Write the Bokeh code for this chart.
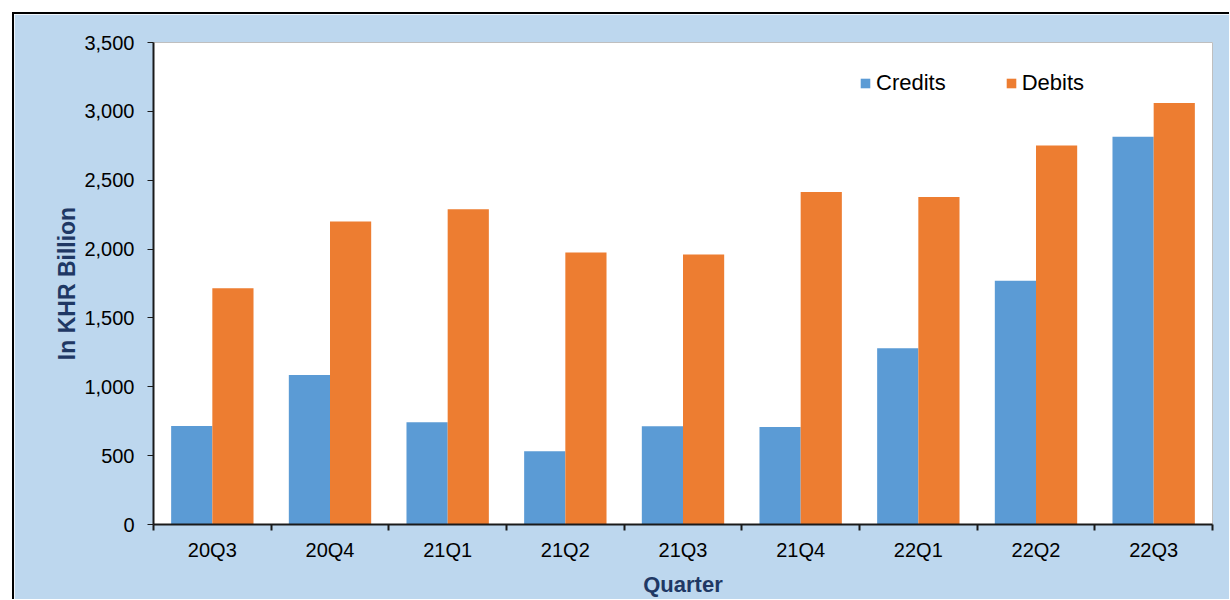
from bokeh.plotting import figure
from bokeh.models import ColumnDataSource, FixedTicker, Legend, LegendItem, Range1d
from bokeh.embed import file_html
from bokeh.resources import INLINE

quarters = ["20Q3", "20Q4", "21Q1", "21Q2", "21Q3", "21Q4", "22Q1", "22Q2", "22Q3"]
credits = [715, 1085, 742, 532, 713, 708, 1280, 1770, 2815]
debits = [1715, 2200, 2290, 1975, 1960, 2415, 2378, 2752, 3060]
y_ticks = [0, 500, 1000, 1500, 2000, 2500, 3000, 3500]

BLUE = "#5B9BD5"
ORANGE = "#ED7D31"
BG = "#BDD7EE"
NAVY = "#1F3864"
FONT = "Liberation Sans"

idx = list(range(len(quarters)))
bw = 0.35
src = ColumnDataSource(dict(
    xc=[i + 0.5 - bw / 2 for i in idx],
    xd=[i + 0.5 + bw / 2 for i in idx],
    credits=credits,
    debits=debits,
))

p = figure(frame_width=1059, frame_height=482, output_backend="svg", toolbar_location=None,
           x_range=Range1d(0, len(quarters)), y_range=Range1d(0, 3500),
           min_border_left=139, min_border_top=28, min_border_right=17, min_border_bottom=60)
p.styles = {"margin-left": "12px", "margin-top": "12px",
            "border-top": "2px solid black", "border-left": "2px solid black"}

p.background_fill_color = "white"
p.border_fill_color = BG
p.outline_line_color = "#BFBFBF"
p.outline_line_width = 1
p.xgrid.visible = False
p.ygrid.visible = False

rc = p.vbar(x="xc", top="credits", width=bw, source=src, fill_color=BLUE, line_color=None)
rd = p.vbar(x="xd", top="debits", width=bw, source=src, fill_color=ORANGE, line_color=None)

# x axis
xa = p.xaxis[0]
xa.ticker = FixedTicker(ticks=[i + 0.5 for i in idx], minor_ticks=list(range(len(quarters) + 1)))
xa.major_label_overrides = {i + 0.5: q for i, q in zip(idx, quarters)}
xa.major_tick_out = 0
xa.major_tick_in = 0
xa.minor_tick_out = 6
xa.minor_tick_in = 0
xa.minor_tick_line_color = "#1a1a1a"
xa.minor_tick_line_width = 2
xa.axis_line_color = "#1a1a1a"
xa.axis_line_width = 2
xa.major_label_text_font = FONT
xa.major_label_text_font_size = "20px"
xa.major_label_text_color = "black"
xa.major_label_standoff = 8
xa.axis_label = "Quarter"
xa.axis_label_text_font = FONT
xa.axis_label_text_font_size = "22px"
xa.axis_label_text_font_style = "bold"
xa.axis_label_text_color = NAVY
xa.axis_label_standoff = 8

# y axis
ya = p.yaxis[0]
ya.ticker = FixedTicker(ticks=y_ticks, minor_ticks=[])
ya.major_label_overrides = {t: f"{t:,}" for t in y_ticks}
ya.major_tick_out = 6
ya.major_tick_in = 0
ya.major_tick_line_color = "#1a1a1a"
ya.major_tick_line_width = 1
ya.minor_tick_out = 0
ya.minor_tick_in = 0
ya.axis_line_color = "#1a1a1a"
ya.axis_line_width = 2
ya.major_label_text_font = FONT
ya.major_label_text_font_size = "20px"
ya.major_label_text_color = "black"
ya.major_label_standoff = 13
ya.axis_label = "In KHR Billion"
ya.axis_label_text_font = FONT
ya.axis_label_text_font_size = "23px"
ya.axis_label_text_font_style = "bold"
ya.axis_label_text_color = NAVY
ya.axis_label_standoff = 1

legend = Legend(items=[LegendItem(label="Credits", renderers=[rc]),
                       LegendItem(label="Debits", renderers=[rd])],
                orientation="horizontal", location=(706, 428))
legend.glyph_width = 12
legend.glyph_height = 12
legend.label_text_font = FONT
legend.label_text_font_size = "22px"
legend.label_text_color = "black"
legend.label_standoff = 5
legend.spacing = 59
legend.padding = 0
legend.margin = 0
legend.border_line_color = None
legend.background_fill_alpha = 0
p.add_layout(legend)

open("out.html", "w").write(file_html(p, INLINE))
